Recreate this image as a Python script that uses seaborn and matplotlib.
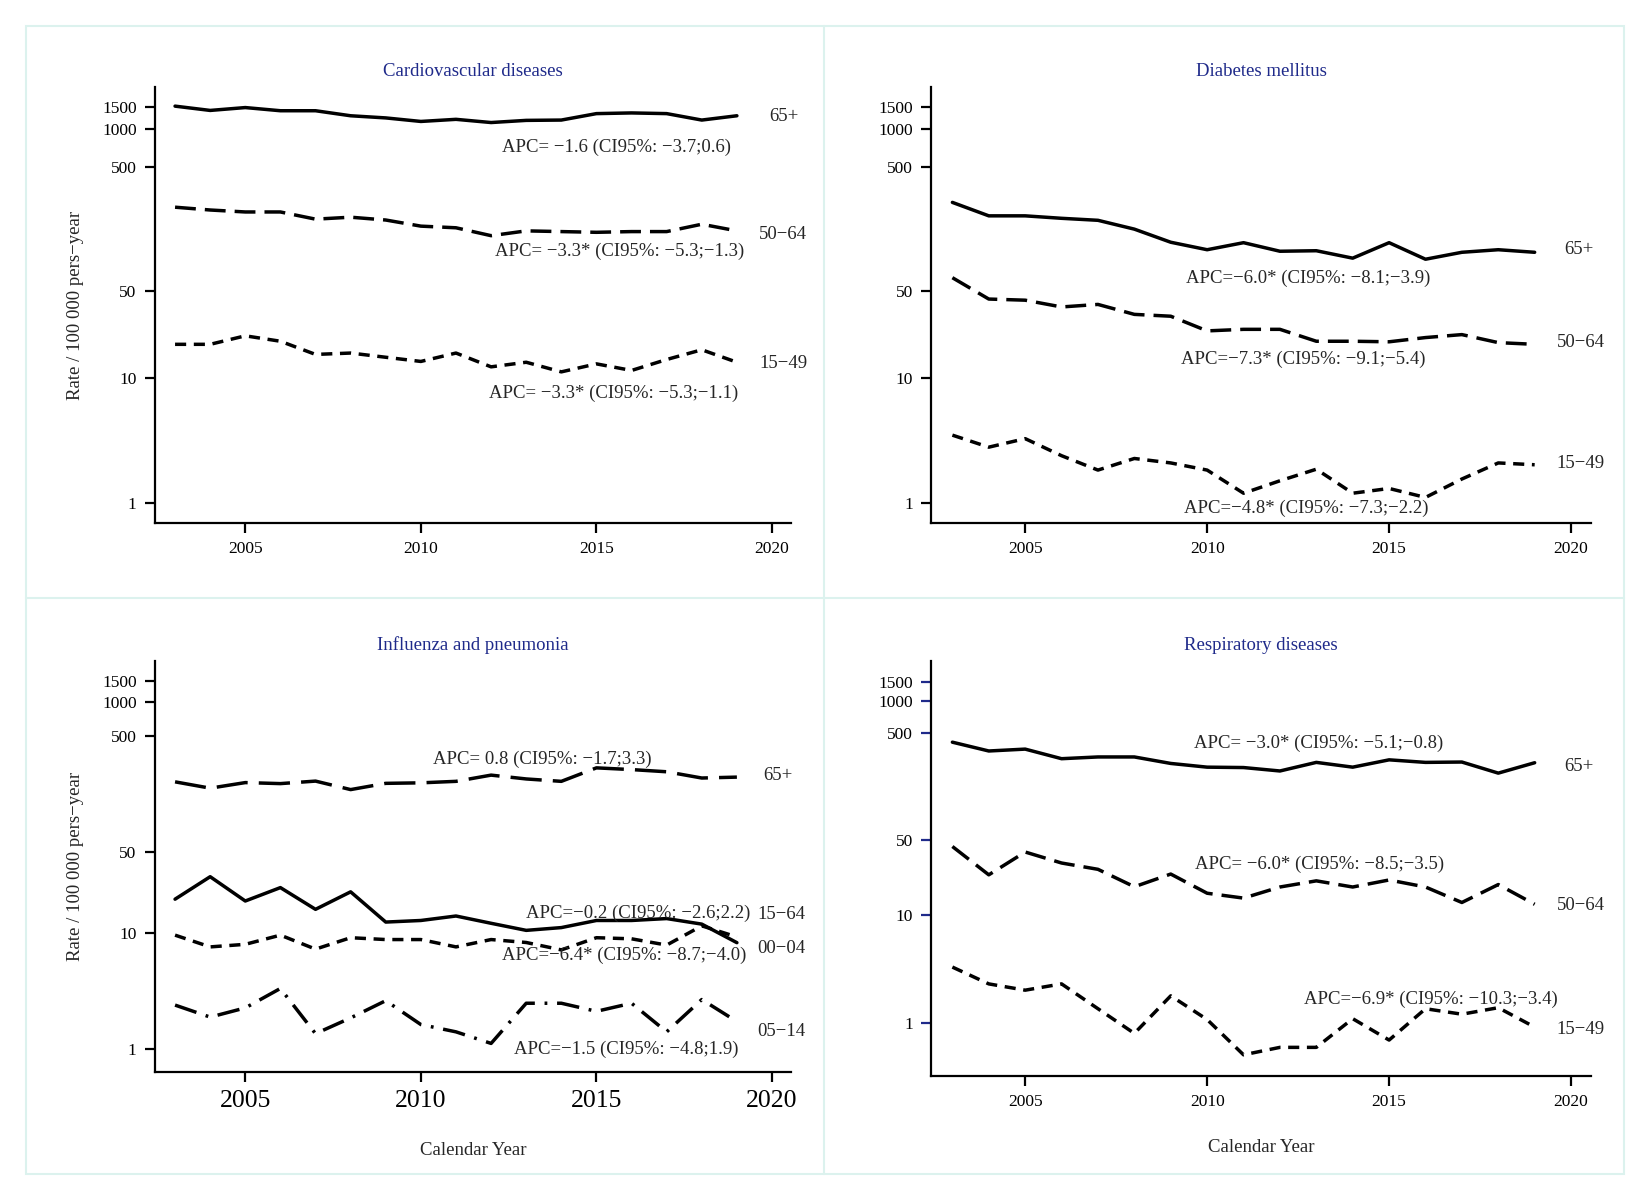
import numpy as np
import pandas as pd
import matplotlib
matplotlib.use("Agg")
import matplotlib.pyplot as plt
import seaborn as sns
from matplotlib.lines import Line2D
from matplotlib.patches import Rectangle


# datos
years = list(range(2003, 2020))

# Cardiovascular diseases
cv_65 = [1534, 1417, 1494, 1409, 1409, 1284, 1234, 1156, 1202, 1133, 1179, 1186, 1336, 1353, 1336, 1186, 1284]
cv_50 = [237, 225, 217, 217, 190, 197, 187, 167, 162, 140, 153, 151, 149, 151, 151, 173, 153]
cv_15 = [18.8, 18.8, 22.0, 19.9, 15.6, 16.0, 14.8, 13.7, 16.0, 12.4, 13.5, 11.3, 13.1, 11.6, 14.2, 17.0, 13.5]

# Diabetes mellitus
dm_65 = [259, 202, 202, 193, 186, 158, 124, 108, 123, 105, 106, 92.4, 123, 90.6, 103, 108, 103]
dm_50 = [64.4, 43.4, 42.5, 37.5, 39.3, 32.7, 31.6, 24.1, 24.8, 24.8, 19.9, 19.9, 19.7, 21.3, 22.5, 19.4, 18.8]
dm_15 = [3.51, 2.81, 3.29, 2.40, 1.84, 2.28, 2.10, 1.84, 1.20, 1.51, 1.87, 1.20, 1.31, 1.11, 1.56, 2.10, 2.03]

# Influenza and pneumonia
flu_65 = [203, 179, 200, 196, 206, 174, 197, 199, 205, 232, 215, 205, 268, 259, 248, 219, 223]
flu_15 = [19.7, 30.8, 19.0, 24.8, 16.1, 22.8, 12.5, 12.9, 14.1, 12.2, 10.6, 11.2, 12.9, 12.9, 13.4, 12.0, 8.3]
flu_00 = [9.64, 7.63, 8.03, 9.64, 7.30, 9.16, 8.83, 8.83, 7.63, 8.83, 8.33, 7.19, 9.16, 8.96, 7.91, 11.6, 9.3]
flu_05 = [2.40, 1.89, 2.27, 3.34, 1.36, 1.86, 2.62, 1.63, 1.41, 1.12, 2.49, 2.49, 2.12, 2.49, 1.41, 2.68, 1.73]

# Respiratory diseases
resp_65 = [412, 341, 355, 289, 300, 300, 261, 241, 239, 222, 267, 241, 282, 267, 269, 212, 265]
resp_50 = [43.9, 23.9, 39.0, 30.8, 26.9, 18.5, 24.3, 16.1, 14.5, 18.4, 21.0, 18.4, 21.4, 18.4, 13.2, 19.4, 12.7]
resp_15 = [3.30, 2.30, 2.01, 2.30, 1.35, 0.795, 1.78, 1.07, 0.502, 0.589, 0.589, 1.09, 0.689, 1.35, 1.20, 1.38, 0.91]

titles = ["Cardiovascular diseases", "Diabetes mellitus",
          "Influenza and pneumonia", "Respiratory diseases"]

apc_cv = ["APC= \u22121.6 (CI95%: \u22123.7;0.6)",
          "APC= \u22123.3* (CI95%: \u22125.3;\u22121.3)",
          "APC= \u22123.3* (CI95%: \u22125.3;\u22121.1)"]
apc_dm = ["APC=\u22126.0* (CI95%: \u22128.1;\u22123.9)",
          "APC=\u22127.3* (CI95%: \u22129.1;\u22125.4)",
          "APC=\u22124.8* (CI95%: \u22127.3;\u22122.2)"]
apc_flu = ["APC= 0.8 (CI95%: \u22121.7;3.3)",
           "APC=\u22120.2 (CI95%: \u22122.6;2.2)",
           "APC=\u22126.4* (CI95%: \u22128.7;\u22124.0)",
           "APC=\u22121.5 (CI95%: \u22124.8;1.9)"]
apc_resp = ["APC= \u22123.0* (CI95%: \u22125.1;\u22120.8)",
            "APC= \u22126.0* (CI95%: \u22128.5;\u22123.5)",
            "APC=\u22126.9* (CI95%: \u221210.3;\u22123.4)"]

groups_3 = ["65+", "50\u221264", "15\u221249"]
groups_flu = ["65+", "15\u221264", "00\u221204", "05\u221214"]

ytick_vals = [1, 10, 50, 500, 1000, 1500]


# estilo
sns.set_style("white")
plt.rcParams["font.family"] = ["Liberation Serif", "DejaVu Serif"]
plt.rcParams["axes.unicode_minus"] = True

NAVY = "#1f2a8a"
BORDER = "#dcf2ee"
FS = 13.5

long_dash = (6.0, 2.6)
longer_dash = (9.0, 3.2)
short_dash = (3.2, 2.2)
dash_dot = (6.5, 2.8, 0.8, 2.8)


def make_df(series, names):
    rows = []
    for vals, name in zip(series, names):
        for yr, v in zip(years, vals):
            rows.append({"year": yr, "rate": v, "group": name})
    return pd.DataFrame(rows)


fig = plt.figure(figsize=(16.5, 12), dpi=100)

# marco exterior y separadores
fig.add_artist(Rectangle((25 / 1568, 1 - 1115 / 1140), (1543 - 25) / 1568, (1115 - 25) / 1140,
                         transform=fig.transFigure, fill=False, edgecolor=BORDER, lw=1.5))
fig.add_artist(Line2D([783 / 1568, 783 / 1568], [1 - 1115 / 1140, 1 - 25 / 1140],
                      transform=fig.transFigure, color=BORDER, lw=1.5))
fig.add_artist(Line2D([25 / 1568, 1543 / 1568], [1 - 568 / 1140, 1 - 568 / 1140],
                      transform=fig.transFigure, color=BORDER, lw=1.5))

ax1 = fig.add_axes([147 / 1568, 1 - 497 / 1140, 605 / 1568, 414 / 1140])
ax2 = fig.add_axes([885 / 1568, 1 - 497 / 1140, 627 / 1568, 414 / 1140])
ax3 = fig.add_axes([147 / 1568, 1 - 1018 / 1140, 605 / 1568, 390 / 1140])
ax4 = fig.add_axes([885 / 1568, 1 - 1022 / 1140, 627 / 1568, 394 / 1140])

panels = [
    (ax1, make_df([cv_65, cv_50, cv_15], groups_3), groups_3,
     {groups_3[0]: "", groups_3[1]: long_dash, groups_3[2]: short_dash}, (0.69, 2170)),
    (ax2, make_df([dm_65, dm_50, dm_15], groups_3), groups_3,
     {groups_3[0]: "", groups_3[1]: long_dash, groups_3[2]: short_dash}, (0.69, 2170)),
    (ax3, make_df([flu_65, flu_15, flu_00, flu_05], groups_flu), groups_flu,
     {groups_flu[0]: longer_dash, groups_flu[1]: "", groups_flu[2]: short_dash,
      groups_flu[3]: dash_dot}, (0.64, 2240)),
    (ax4, make_df([resp_65, resp_50, resp_15], groups_3), groups_3,
     {groups_3[0]: "", groups_3[1]: long_dash, groups_3[2]: short_dash}, (0.32, 2350)),
]

for i, (ax, df, names, dashes, ylim) in enumerate(panels):
    sns.lineplot(
        data=df, x="year", y="rate",
        hue="group", style="group",
        hue_order=names, style_order=names,
        palette=["black"] * len(names),
        dashes=dashes,
        linewidth=2.5,
        legend=False,
        ax=ax
    )
    ax.set_yscale("log")
    ax.set_ylim(*ylim)
    ax.set_xlim(2002.42, 2020.55)
    ax.set_yticks(ytick_vals)
    ax.set_yticklabels([str(v) for v in ytick_vals])
    ax.minorticks_off()
    ax.set_xticks([2005, 2010, 2015, 2020])
    ax.set_xlabel("")
    ax.set_ylabel("")
    for s in ["top", "right"]:
        ax.spines[s].set_visible(False)
    for s in ["left", "bottom"]:
        ax.spines[s].set_color("black")
        ax.spines[s].set_linewidth(1.6)
    ax.tick_params(axis="both", direction="out", length=7, width=1.6,
                   left=True, bottom=True,
                   colors="black", labelsize=12.5, pad=6)
    ax.set_title(titles[i], color=NAVY, fontsize=FS, pad=8)

ax3.tick_params(axis="x", labelsize=18.5)
ax4.tick_params(axis="y", colors=NAVY, labelcolor="black")

for ax in [ax1, ax3]:
    ax.set_ylabel("Rate / 100 000 pers\u2212year", fontsize=FS, labelpad=13)
ax3.set_xlabel("Calendar Year", fontsize=FS, labelpad=22)
ax4.set_xlabel("Calendar Year", fontsize=FS, labelpad=21)

# textos APC
apc_pos_cv = [(2015.57, 719), (2015.66, 104), (2015.48, 7.6)]
apc_pos_dm = [(2012.79, 64.1), (2012.64, 14.2), (2012.73, 0.91)]
apc_pos_flu = [(2013.47, 316), (2016.2, 14.9), (2015.78, 6.44), (2015.84, 1.0)]
apc_pos_resp = [(2013.07, 405), (2013.10, 30.2), (2016.15, 1.64)]

lab_pos_cv = [(2019.91, 1260), (2019.64, 142), (2019.64, 13.1)]
lab_pos_dm = [(2019.80, 108), (2019.60, 19.3), (2019.60, 2.09)]
lab_pos_flu = [(2019.76, 231), (2019.58, 14.6), (2019.58, 7.46), (2019.58, 1.43)]
lab_pos_resp = [(2019.80, 247), (2019.60, 12.5), (2019.60, 0.87)]

for ax, apcs, apos, names, lpos in [
    (ax1, apc_cv, apc_pos_cv, groups_3, lab_pos_cv),
    (ax2, apc_dm, apc_pos_dm, groups_3, lab_pos_dm),
    (ax3, apc_flu, apc_pos_flu, groups_flu, lab_pos_flu),
    (ax4, apc_resp, apc_pos_resp, groups_3, lab_pos_resp),
]:
    for txt, (x, y) in zip(apcs, apos):
        ax.text(x, y, txt, ha="center", va="center", fontsize=FS, clip_on=False)
    for txt, (x, y) in zip(names, lpos):
        ax.text(x, y, txt, ha="left", va="center", fontsize=FS, clip_on=False)

plt.savefig("out.png", dpi=100)
plt.close()
